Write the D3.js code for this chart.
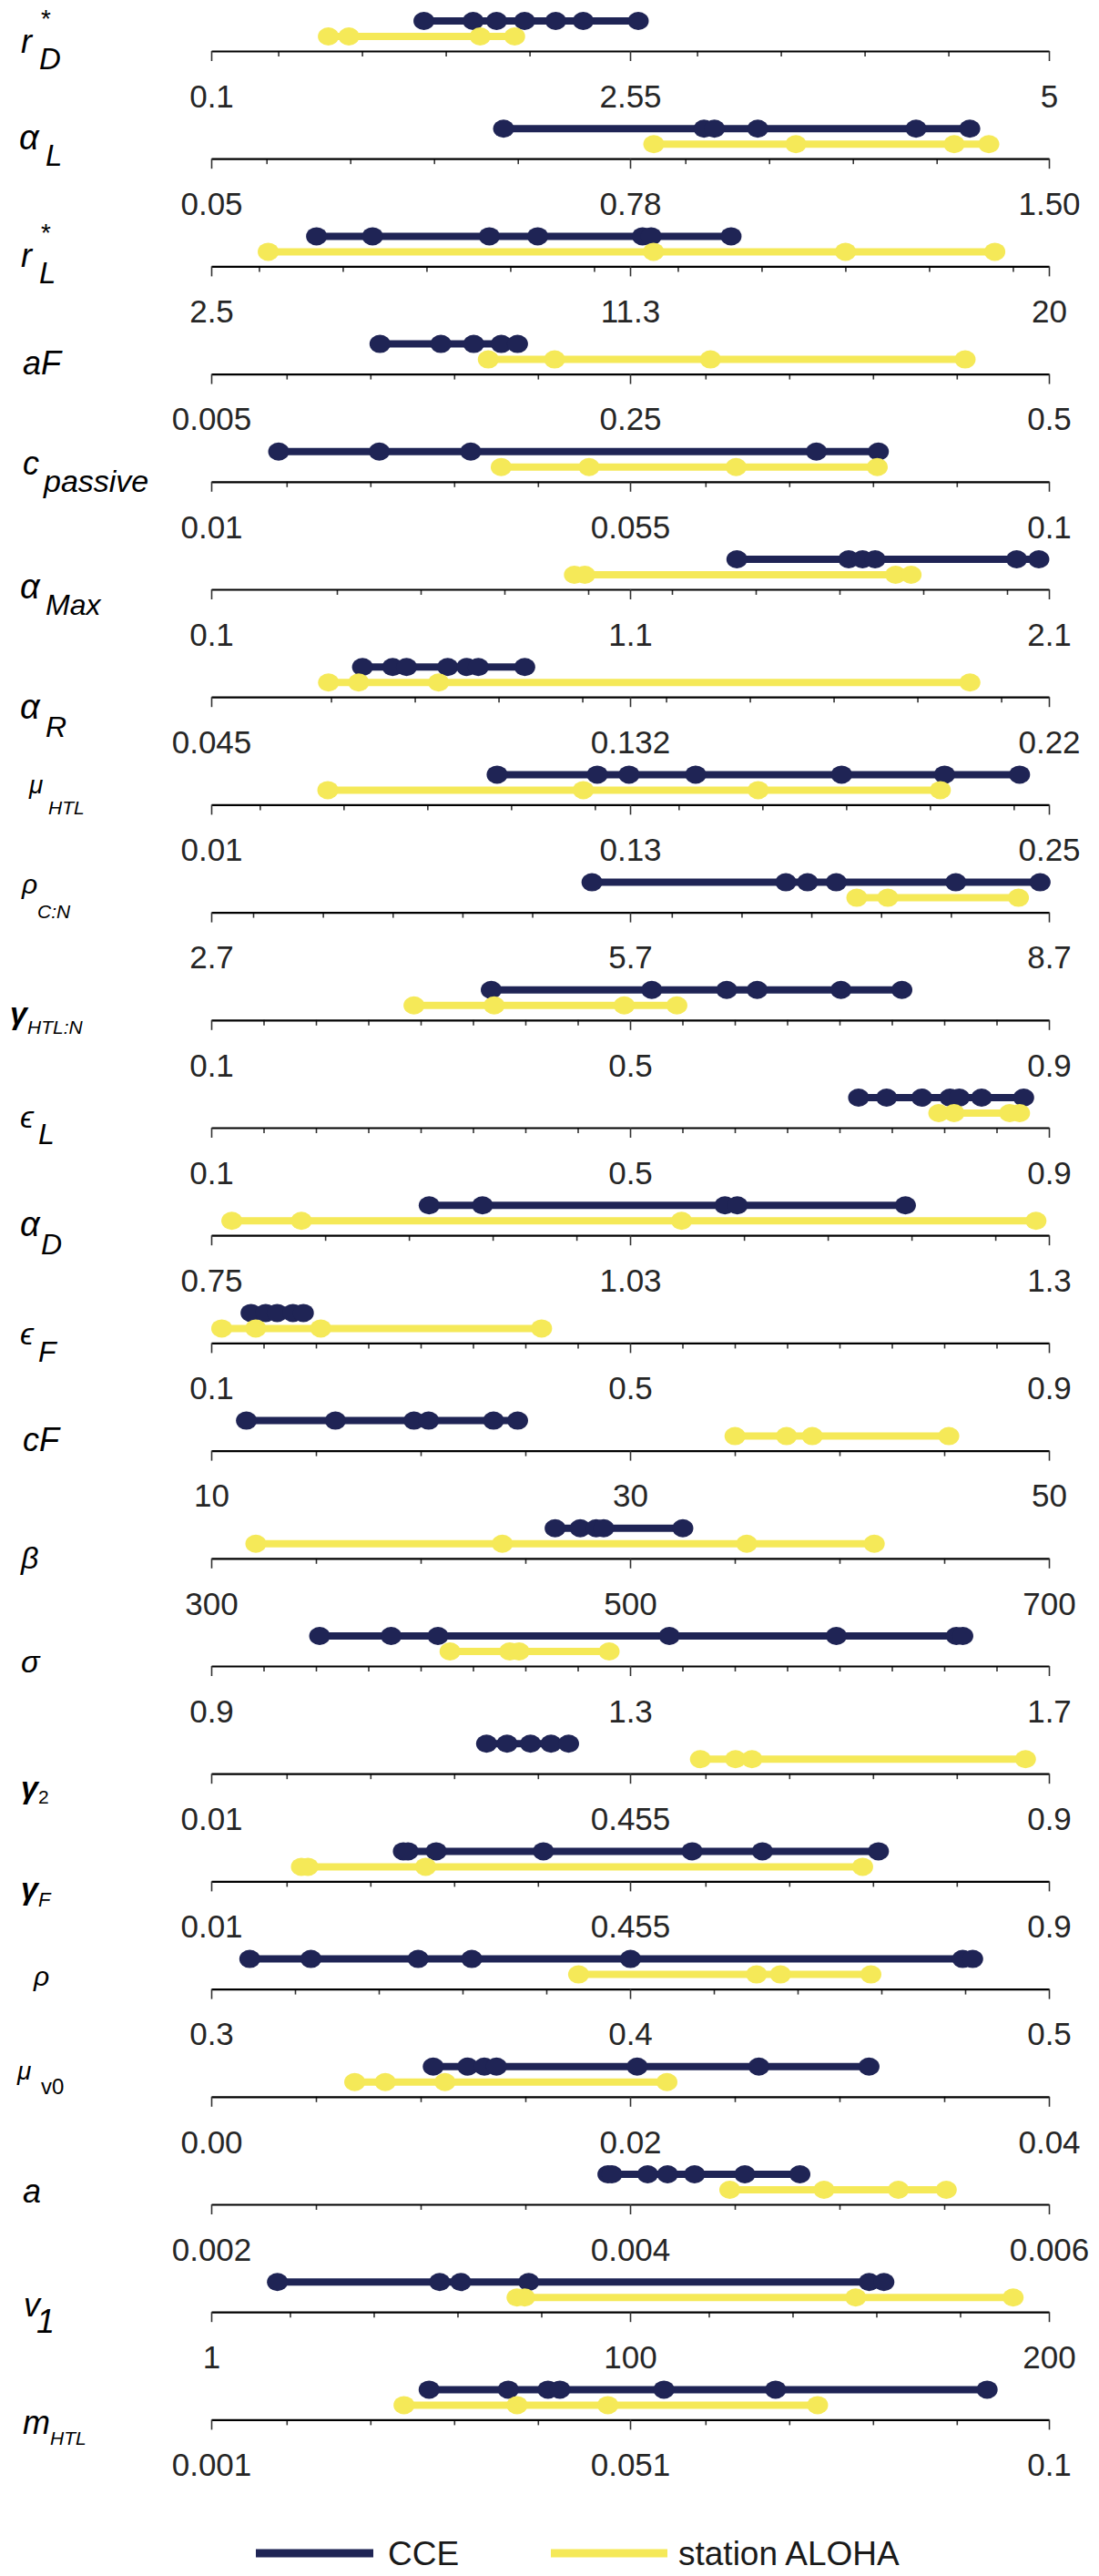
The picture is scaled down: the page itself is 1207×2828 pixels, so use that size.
<!DOCTYPE html>
<html><head><meta charset="utf-8">
<script src="https://cdn.jsdelivr.net/npm/d3@7/dist/d3.min.js"></script>
<style>
body{margin:0;background:#fff}
svg{display:block}
text{font-family:"Liberation Sans",Arial,Helvetica,sans-serif}
</style>
</head><body>
<svg id="chart" width="1207" height="2828"></svg>
<script>
// ---------------- data ----------------
const paramKeys = ["rD","alphaL","rL","aF","cPassive","alphaMax","alphaR","muHTL","rhoCN","gammaHTLN","epsL","alphaD","epsF","cF","beta","sigma","gamma2","gammaF","rho","muV0","a","v1","mHTL"];
const rangeMin = [0.1, 0.05, 2.5, 0.005, 0.01, 0.1, 0.045, 0.01, 2.7, 0.1, 0.1, 0.75, 0.1, 10, 300, 0.9, 0.01, 0.01, 0.3, 0.00, 0.002, 1, 0.001];
const rangeMax = [5, 1.5, 20, 0.5, 0.1, 2.1, 0.22, 0.25, 8.7, 0.9, 0.9, 1.3, 0.9, 50, 700, 1.7, 0.9, 0.9, 0.5, 0.04, 0.006, 200, 0.1];
const tickLabels = [
  ["0.1","2.55","5"],["0.05","0.78","1.50"],["2.5","11.3","20"],["0.005","0.25","0.5"],
  ["0.01","0.055","0.1"],["0.1","1.1","2.1"],["0.045","0.132","0.22"],["0.01","0.13","0.25"],
  ["2.7","5.7","8.7"],["0.1","0.5","0.9"],["0.1","0.5","0.9"],["0.75","1.03","1.3"],
  ["0.1","0.5","0.9"],["10","30","50"],["300","500","700"],["0.9","1.3","1.7"],
  ["0.01","0.455","0.9"],["0.01","0.455","0.9"],["0.3","0.4","0.5"],["0.00","0.02","0.04"],
  ["0.002","0.004","0.006"],["1","100","200"],["0.001","0.051","0.1"]
];
const cceValues = [
  [1.344, 1.632, 1.769, 1.933, 2.115, 2.276, 2.598],
  [0.556, 0.903, 0.921, 0.996, 1.270, 1.363],
  [4.70, 5.87, 8.31, 9.32, 11.51, 11.69, 13.36],
  [0.1047, 0.1407, 0.1601, 0.1764, 0.1860],
  [0.01724, 0.02806, 0.03788, 0.07502, 0.08168],
  [1.355, 1.622, 1.655, 1.685, 2.023, 2.076],
  [0.0766, 0.0829, 0.0858, 0.0944, 0.0984, 0.1008, 0.1105],
  [0.0919, 0.1206, 0.1297, 0.1488, 0.1906, 0.2201, 0.2416],
  [5.427, 6.816, 6.971, 7.177, 8.033, 8.637],
  [0.3674, 0.5207, 0.5923, 0.6214, 0.7014, 0.7596],
  [0.7182, 0.7450, 0.7786, 0.8055, 0.8144, 0.8357, 0.8759],
  [0.8931, 0.9281, 1.0873, 1.0954, 1.2058],
  [0.138, 0.152, 0.163, 0.178, 0.188],
  [11.68, 15.93, 19.68, 20.38, 23.48, 24.63],
  [464.2, 476.2, 483.8, 487.4, 525.2],
  [1.0035, 1.0718, 1.1165, 1.3375, 1.497, 1.6116, 1.6178],
  [0.3025, 0.3243, 0.3492, 0.3710, 0.3897],
  [0.2141, 0.2191, 0.2490, 0.3629, 0.5209, 0.5956, 0.7189],
  [0.3092, 0.3238, 0.3494, 0.3622, 0.4001, 0.4794, 0.4818],
  [0.0106, 0.01225, 0.01304, 0.01362, 0.02034, 0.02615, 0.03141],
  [0.003894, 0.003913, 0.004084, 0.004179, 0.004308, 0.004548, 0.004811],
  [16.72, 55.27, 60.28, 76.42, 157.3, 160.8],
  [0.02675, 0.0361, 0.0408, 0.0422, 0.0545, 0.0677, 0.0927]
];
const alohaValues = [
  [0.785, 0.905, 1.673, 1.875],
  [0.816, 1.062, 1.336, 1.396],
  [3.69, 11.74, 15.75, 18.87],
  [0.1687, 0.2079, 0.3000, 0.4505],
  [0.04115, 0.05059, 0.06639, 0.08156],
  [0.967, 0.992, 1.734, 1.771],
  [0.0695, 0.0758, 0.0925, 0.2035],
  [0.0434, 0.1166, 0.1667, 0.2189],
  [7.324, 7.546, 8.482],
  [0.2936, 0.3702, 0.4944, 0.5447],
  [0.7948, 0.8094, 0.8625, 0.8720],
  [0.7635, 0.8092, 1.0588, 1.2915],
  [0.110, 0.1425, 0.2046, 0.4155],
  [35.01, 37.47, 38.70, 45.22],
  [321.3, 439.0, 555.7, 616.6],
  [1.128, 1.185, 1.194, 1.280],
  [0.5297, 0.5670, 0.5845, 0.8751],
  [0.1058, 0.1127, 0.2378, 0.7021],
  [0.3877, 0.4302, 0.4359, 0.4575],
  [0.00685, 0.00831, 0.01116, 0.02176],
  [0.004476, 0.004926, 0.005281, 0.005510],
  [73.64, 75.45, 154.1, 191.5],
  [0.02378, 0.03714, 0.04787, 0.07266]
];
const seriesNames = ["CCE", "station ALOHA"];

// ---------------- layout / style ----------------
const colors = ["#1f2455", "#f5e958"];
const X0 = 232, X1 = 1152;
const axisTop = 56, axisStep = 118.2;
const rowOffset = [-33, -16];
// minor tick pattern (fraction of axis length): [phase, step]
const minorPattern = [
  [0.08,0.1],[0.066,0.1],[0.057,0.1],[0.09,0.1],[0.09,0.1],[0.15,0.1],[0.143,0.1],[0.058,0.1],
  [0.05,0.0833],[0.0625,0.0625],[0.0625,0.0625],[0.136,0.1],[0.0625,0.0625],[0.125,0.125],[0.125,0.125],
  [0.0625,0.0625],[0.09,0.1],[0.09,0.1],[0.1,0.1],[0.125,0.125],[0.125,0.125],[0.094,0.1],[0.09,0.1]
];
// left labels: pieces [text, x, dy(from axis), size, style]; style: 1 italic sans, 0 upright sans, 2 greek serif italic, 3 greek serif bold italic
const labelPieces = [
  [["r",23,2,36,1],["*",45,-26,28,0],["D",43,20,33,1]],
  [["α",21,-10,38,2],["L",50,8,33,1]],
  [["r",23,1,36,1],["*",45,-27,28,0],["L",43,19,33,1]],
  [["aF",25,0,36,1]],
  [["c",25,-8,36,1],["passive",48,11,34,1]],
  [["α",22,10,38,2],["Max",50,28,32,1]],
  [["α",22,24,38,2],["R",50,44,32,1]],
  [["μ",32,-12,28,1],["HTL",53,11,21,1]],
  [["ρ",24,-21,30,1],["C:N",41,6,21,1]],
  [["γ",11,4,34,3],["HTL:N",30,15,21,1]],
  [["ϵ",22,0,34,2],["L",42,18,32,1]],
  [["α",22,1,38,2],["D",45,21,32,1]],
  [["ϵ",22,2,34,2],["F",42,21,32,1]],
  [["cF",25,0,36,1]],
  [["β",23,11,34,1]],
  [["σ",23,7,34,1]],
  [["γ",23,27,34,3],["2",42,33,21,0]],
  [["γ",23,20,34,3],["F",42,28,22,1]],
  [["ρ",37,-4,30,1]],
  [["μ",19,-19,28,1],["v0",45,-3,24,0]],
  [["a",25,-2,36,1]],
  [["v",26,5,36,1],["1",40,23,36,1]],
  [["m",25,16,36,1],["HTL",55,28,21,1]]
];

// ---------------- draw ----------------
const svg = d3.select("#chart");
svg.append("rect").attr("width",1207).attr("height",2828).attr("fill","#fff");

paramKeys.forEach((key, i) => {
  const y = axisTop + i * axisStep;
  const lo = rangeMin[i], hi = rangeMax[i], mid = (lo + hi) / 2;
  const x = d3.scaleLinear().domain([lo, hi]).range([X0, X1]);
  const g = svg.append("g").attr("class", "panel " + key);

  // minor ticks
  const [ph, st] = minorPattern[i];
  const fr = [];
  for (let f = ph; f < 1; f += st) {
    if (f > 0.04 && f < 0.96 && Math.abs(f - 0.5) > 0.04) fr.push(f);
  }
  const minorVals = fr.map(f => lo + f * (hi - lo));
  const minor = g.append("g").attr("transform", `translate(0,${y})`)
    .call(d3.axisBottom(x).tickValues(minorVals).tickSize(6).tickSizeOuter(0).tickFormat(""));
  minor.select(".domain").remove();
  minor.selectAll(".tick line").attr("stroke", "#333").attr("stroke-width", 1.6);

  // major axis
  const ax = g.append("g").attr("transform", `translate(0,${y})`)
    .call(d3.axisBottom(x).tickValues([lo, mid, hi]).tickSize(11).tickSizeOuter(0).tickPadding(26)
      .tickFormat((d, k) => tickLabels[i][k]));
  ax.select(".domain").attr("stroke", "#000").attr("stroke-width", 2.2);
  ax.selectAll(".tick line").attr("stroke", "#333").attr("stroke-width", 1.6);
  ax.selectAll(".tick text").attr("font-size", 35).attr("fill", "#262626")
    .attr("font-family", "'Liberation Sans', Arial, sans-serif");

  // series
  [cceValues[i], alohaValues[i]].forEach((vals, s) => {
    const yy = y + rowOffset[s];
    const ext = d3.extent(vals);
    g.append("line").attr("x1", x(ext[0])).attr("x2", x(ext[1]))
      .attr("y1", yy).attr("y2", yy).attr("stroke", colors[s]).attr("stroke-width", 8);
    g.selectAll(null).data(vals).enter().append("ellipse")
      .attr("cx", d => x(d)).attr("cy", yy).attr("rx", 11.5).attr("ry", 10)
      .attr("fill", colors[s]);
  });

  // label
  labelPieces[i].forEach(p => {
    const t = svg.append("text").attr("x", p[1]).attr("y", y + p[2])
      .attr("font-size", p[3]).attr("fill", "#000").text(p[0]);
    if (p[4] >= 1) t.attr("font-style", "italic");
    if (p[4] >= 2) t.attr("font-family", "'Liberation Serif','DejaVu Serif',serif");
    if (p[4] === 3) t.attr("font-weight", "bold");
  });
});

// legend
const legY = 2803;
const legend = svg.append("g");
const legItems = [[281, 410, 426], [605, 733, 745]];
seriesNames.forEach((name, s) => {
  const [a, b, t] = legItems[s];
  legend.append("line").attr("x1", a).attr("x2", b).attr("y1", legY).attr("y2", legY)
    .attr("stroke", colors[s]).attr("stroke-width", 9);
  legend.append("text").attr("x", t).attr("y", legY + 13).attr("font-size", 37)
    .attr("fill", "#1a1a1a").text(name);
});
</script>
</body></html>
